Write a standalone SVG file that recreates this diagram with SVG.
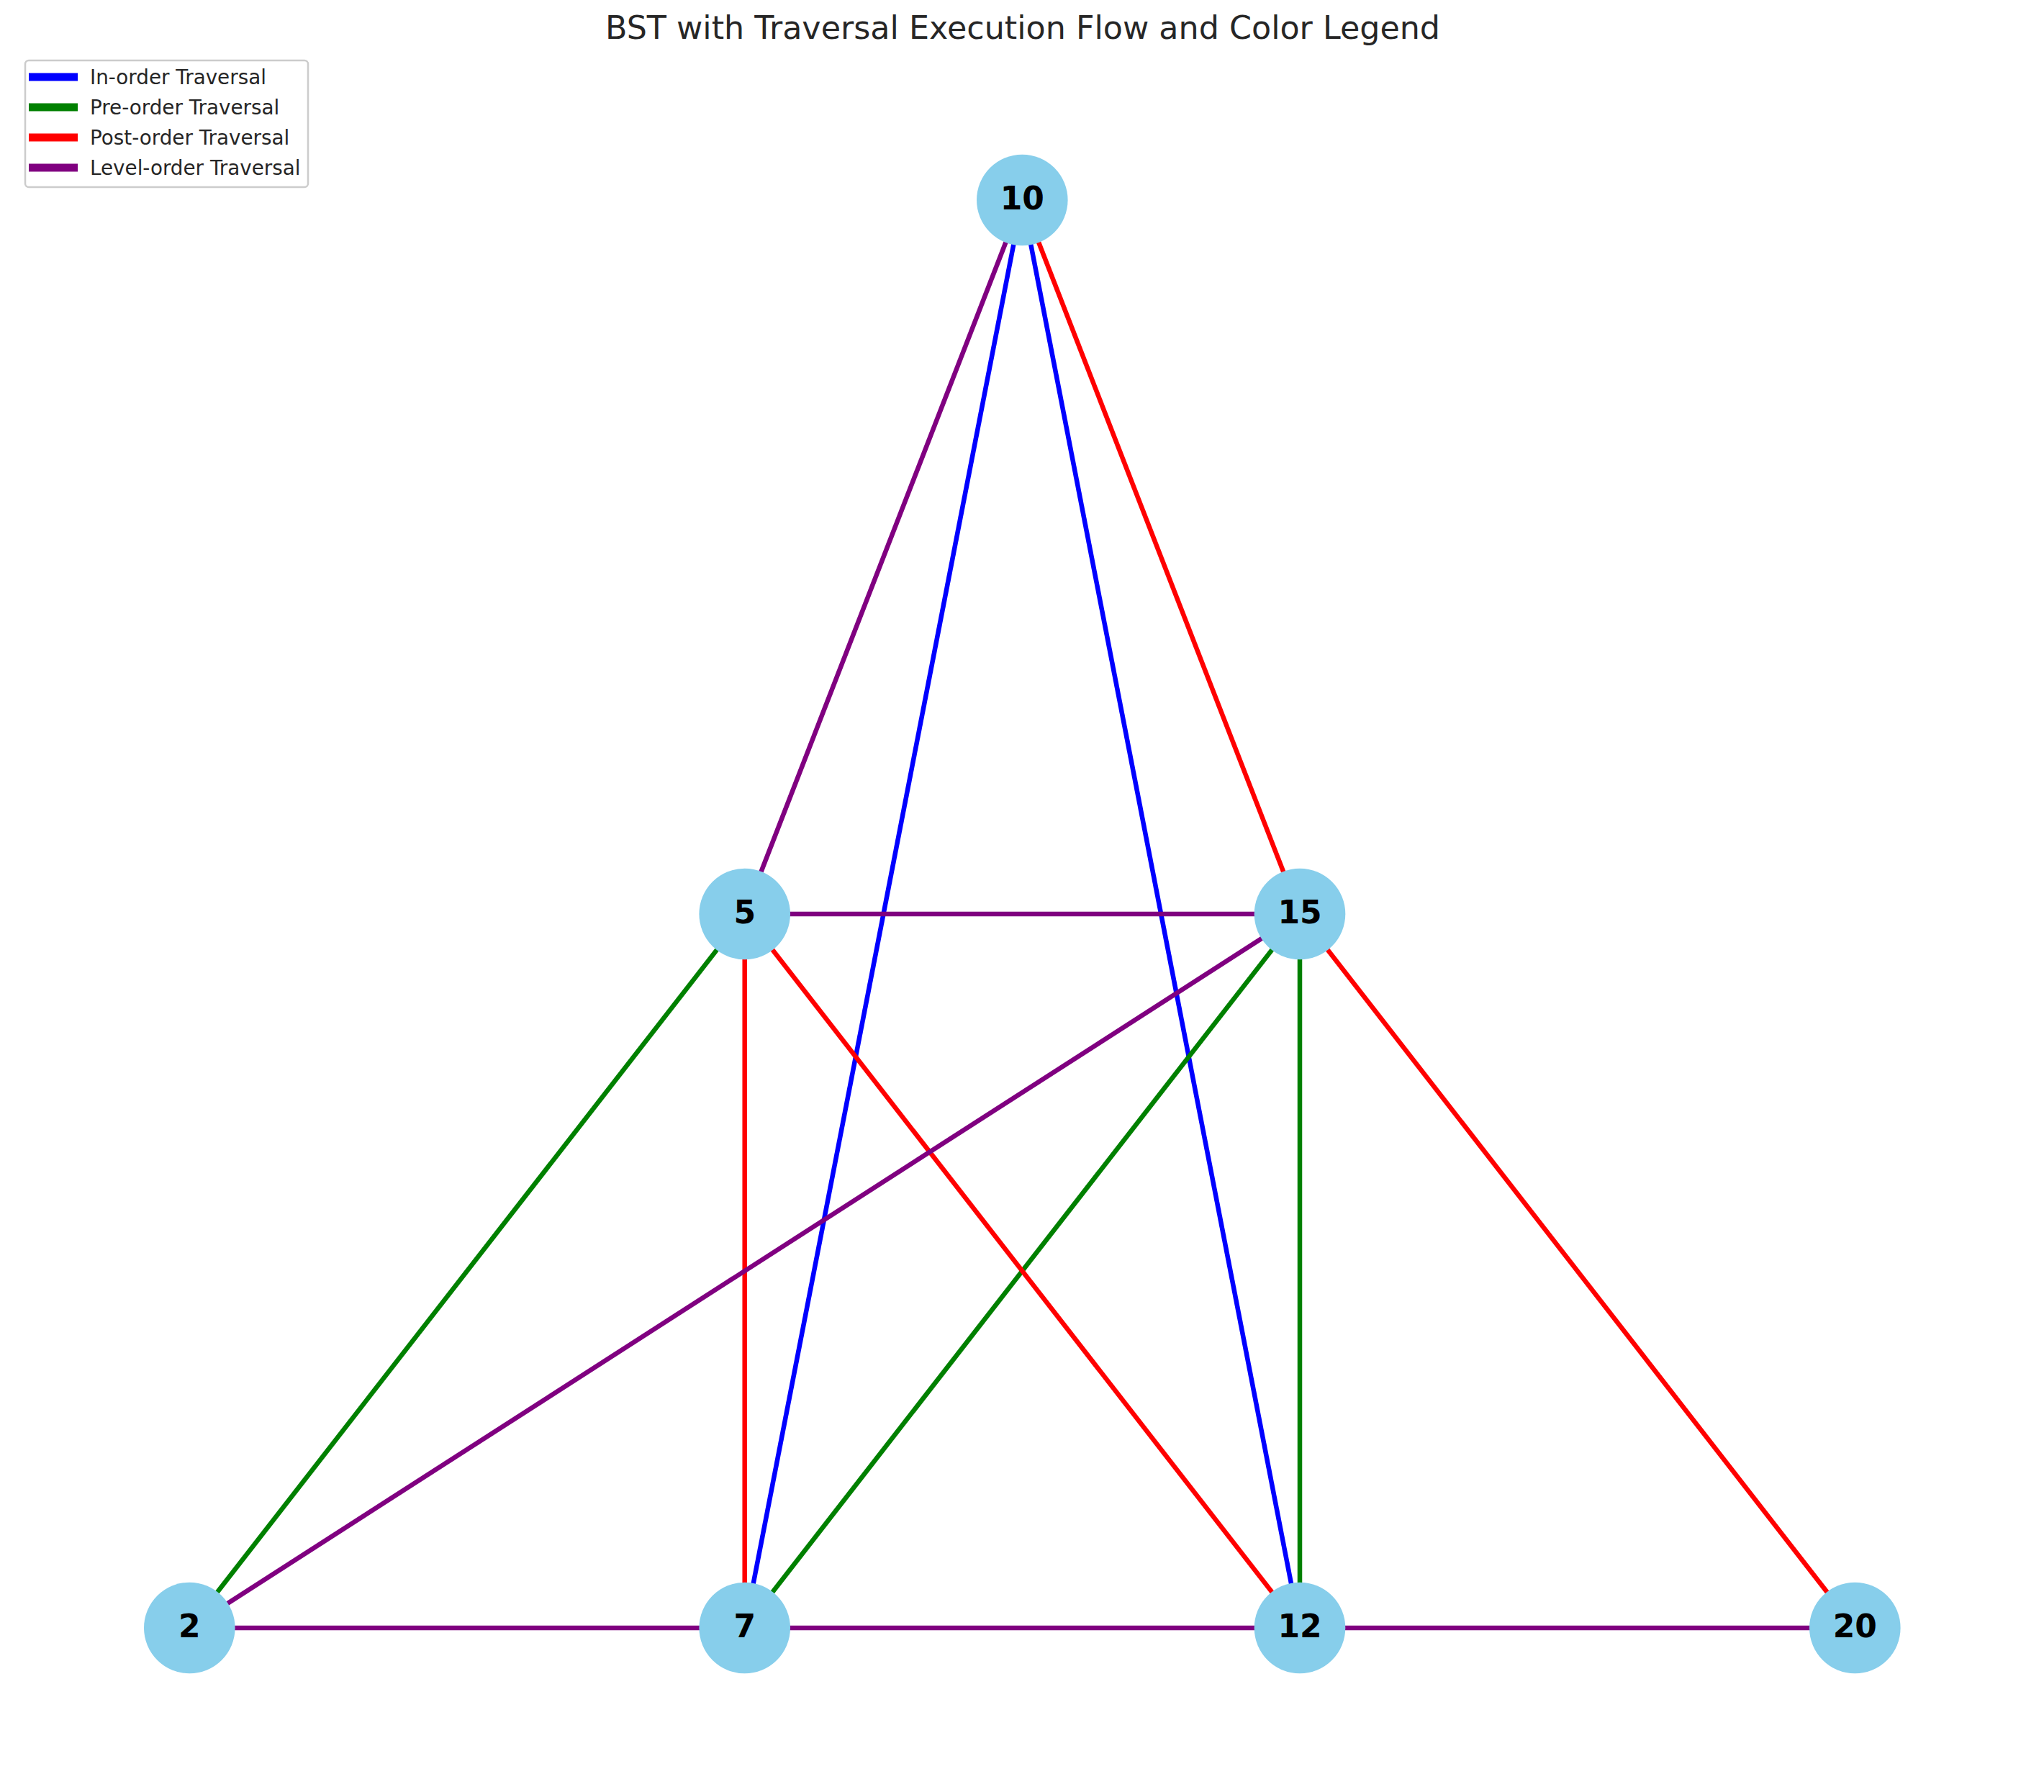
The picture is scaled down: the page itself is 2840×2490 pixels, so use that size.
<svg xmlns="http://www.w3.org/2000/svg" width="2840" height="2490" viewBox="0 0 2840 2490">
<style>
.e{stroke-width:6.5;fill:none;stroke-linecap:butt}
.b{stroke:#0000ff}.g{stroke:#008000}.r{stroke:#ff0000}.p{stroke:#800080}
.n circle{fill:#87ceeb}
.n text{font-family:"DejaVu Sans",sans-serif;font-weight:bold;font-size:44px;fill:#000;text-anchor:middle}
.lg text{font-family:"DejaVu Sans",sans-serif;font-size:27.8px;fill:#262626}
.lg line{stroke-width:11}
</style>
<rect width="2840" height="2490" fill="#ffffff"/>
<text x="1421" y="54" font-family="DejaVu Sans, sans-serif" font-size="44.4" fill="#262626" text-anchor="middle">BST with Traversal Execution Flow and Color Legend</text>
<g id="edges">
<line class="e b" x1="1420.3" y1="278" x2="1034.7" y2="2262"/>
<line class="e b" x1="1420.3" y1="278" x2="1806" y2="2262"/>
<line class="e g" x1="1034.7" y1="1270" x2="263.3" y2="2262"/>
<line class="e g" x1="1806" y1="1270" x2="1034.7" y2="2262"/>
<line class="e g" x1="1806" y1="1270" x2="1806" y2="2262"/>
<line class="e r" x1="1420.3" y1="278" x2="1806" y2="1270"/>
<line class="e r" x1="1034.7" y1="1270" x2="1034.7" y2="2262"/>
<line class="e r" x1="1034.7" y1="1270" x2="1806" y2="2262"/>
<line class="e r" x1="1806" y1="1270" x2="2577.3" y2="2262"/>
<line class="e p" x1="1420.3" y1="278" x2="1034.7" y2="1270"/>
<line class="e p" x1="1034.7" y1="1270" x2="1806" y2="1270"/>
<line class="e p" x1="1806" y1="1270" x2="263.3" y2="2262"/>
<line class="e p" x1="263.3" y1="2262" x2="1034.7" y2="2262"/>
<line class="e p" x1="1034.7" y1="2262" x2="1806" y2="2262"/>
<line class="e p" x1="1806" y1="2262" x2="2577.3" y2="2262"/>
</g>
<g id="node10" class="n"><circle cx="1420.3" cy="278" r="63.3"/><text x="1420.3" y="291">10</text></g>
<g id="node5" class="n"><circle cx="1034.7" cy="1270" r="63.3"/><text x="1034.7" y="1283">5</text></g>
<g id="node15" class="n"><circle cx="1806" cy="1270" r="63.3"/><text x="1806" y="1283">15</text></g>
<g id="node2" class="n"><circle cx="263.3" cy="2262" r="63.3"/><text x="263.3" y="2275">2</text></g>
<g id="node7" class="n"><circle cx="1034.7" cy="2262" r="63.3"/><text x="1034.7" y="2275">7</text></g>
<g id="node12" class="n"><circle cx="1806" cy="2262" r="63.3"/><text x="1806" y="2275">12</text></g>
<g id="node20" class="n"><circle cx="2577.3" cy="2262" r="63.3"/><text x="2577.3" y="2275">20</text></g>
<g id="legend" class="lg">
<rect x="35" y="84" width="393" height="176" rx="5" fill="#ffffff" fill-opacity="0.8" stroke="#cccccc" stroke-width="2.5"/>
<line x1="40" y1="107" x2="108" y2="107" stroke="#0000ff"/>
<text x="125" y="117">In-order Traversal</text>
<line x1="40" y1="149" x2="108" y2="149" stroke="#008000"/>
<text x="125" y="159">Pre-order Traversal</text>
<line x1="40" y1="191" x2="108" y2="191" stroke="#ff0000"/>
<text x="125" y="201">Post-order Traversal</text>
<line x1="40" y1="233" x2="108" y2="233" stroke="#800080"/>
<text x="125" y="243">Level-order Traversal</text>
</g>
</svg>
